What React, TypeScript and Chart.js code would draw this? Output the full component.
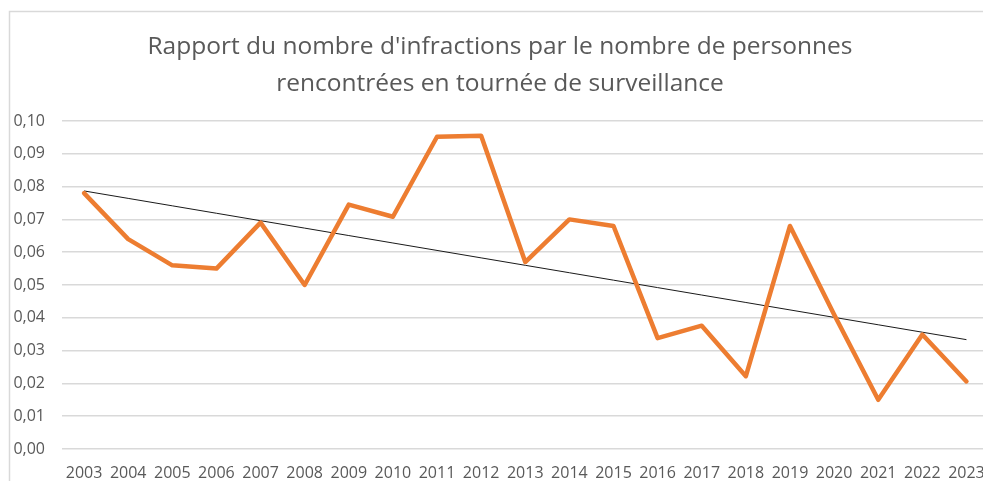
import React, { useEffect, useRef } from "react";
import { Chart, registerables } from "chart.js";

Chart.register(...registerables);

const years: string[] = [
  "2003", "2004", "2005", "2006", "2007", "2008", "2009", "2010", "2011", "2012", "2013",
  "2014", "2015", "2016", "2017", "2018", "2019", "2020", "2021", "2022", "2023",
];

const ratio: number[] = [
  0.078, 0.064, 0.056, 0.055, 0.069, 0.050, 0.0745, 0.0708, 0.0952, 0.0955, 0.057,
  0.070, 0.068, 0.0338, 0.0376, 0.0222, 0.068, 0.041, 0.015, 0.0349, 0.0206,
];

const titleLines: string[] = [
  "Rapport du nombre d'infractions par le nombre de personnes",
  "rencontrées en tournée de surveillance",
];

const yMin = 0;
const yMax = 0.1;
const yStep = 0.01;

// Linear (least-squares) trend line, as the spreadsheet's trendline
function linearTrend(values: number[]): number[] {
  const n = values.length;
  const xs = values.map((_, i) => i);
  const mx = xs.reduce((a, b) => a + b, 0) / n;
  const my = values.reduce((a, b) => a + b, 0) / n;
  let num = 0;
  let den = 0;
  for (let i = 0; i < n; i++) {
    num += (xs[i] - mx) * (values[i] - my);
    den += (xs[i] - mx) * (xs[i] - mx);
  }
  const slope = num / den;
  return xs.map((x) => my + slope * (x - mx));
}

const FONT = "'Open Sans', 'Noto Sans', sans-serif";

const framePlugin = {
  id: "frame",
  beforeDraw(chart: any) {
    const ctx = chart.ctx;
    ctx.save();
    ctx.fillStyle = "#ffffff";
    ctx.fillRect(0, 0, chart.width, chart.height);
    ctx.strokeStyle = "#d9d9d9";
    ctx.lineWidth = 1.5;
    ctx.strokeRect(9.5, 11.5, chart.width + 20, chart.height + 20);
    ctx.restore();
  },
};

export default function App() {
  const canvasRef = useRef<HTMLCanvasElement | null>(null);

  useEffect(() => {
    if (!canvasRef.current) return;
    const chart = new Chart(canvasRef.current, {
      type: "line",
      data: {
        labels: years,
        datasets: [
          {
            label: "Rapport",
            data: ratio,
            borderColor: "#ED7D31",
            borderWidth: 4.5,
            pointRadius: 0,
            tension: 0,
            fill: false,
            borderJoinStyle: "round",
            borderCapStyle: "round",
          },
          {
            label: "Tendance",
            data: linearTrend(ratio),
            borderColor: "#1a1a1a",
            borderWidth: 1,
            pointRadius: 0,
            tension: 0,
            fill: false,
          },
        ],
      },
      options: {
        responsive: false,
        animation: false,
        layout: { padding: { left: 10, right: 10, top: 11, bottom: 0 } },
        plugins: {
          legend: { display: false },
          tooltip: { enabled: false },
          title: {
            display: true,
            text: titleLines,
            color: "#595959",
            font: { family: FONT, size: 24.5, weight: "normal", lineHeight: 1.51 },
            padding: { top: 18, bottom: 18 },
          },
        },
        scales: {
          x: {
            type: "category",
            offset: true,
            grid: { display: false, drawTicks: false },
            border: { display: false },
            ticks: {
              color: "#595959",
              font: { family: FONT, size: 16 },
              padding: 15,
              maxRotation: 0,
              minRotation: 0,
              autoSkip: false,
            },
            afterFit: (scale: any) => {
              scale.height = 32;
            },
          },
          y: {
            min: yMin,
            max: yMax,
            grid: { color: "#d9d9d9", lineWidth: 1.5, drawTicks: false },
            border: { display: false },
            ticks: {
              stepSize: yStep,
              color: "#595959",
              font: { family: FONT, size: 16 },
              padding: 17,
              callback: (v: any) => Number(v).toFixed(2).replace(".", ","),
            },
            afterFit: (scale: any) => {
              scale.width = 52;
            },
          },
        },
      },
      plugins: [framePlugin],
    });
    return () => chart.destroy();
  }, []);

  return (
    <div
      style={{
        position: "fixed",
        left: 0,
        top: 0,
        width: 983,
        height: 481,
        overflow: "hidden",
        background: "#fff",
      }}
    >
      <canvas ref={canvasRef} width={1000} height={481} style={{ display: "block" }} />
    </div>
  );
}
